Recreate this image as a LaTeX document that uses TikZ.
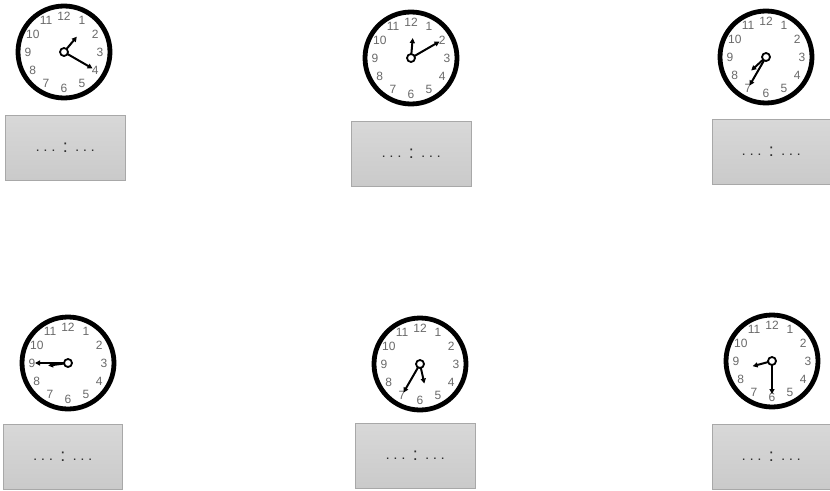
\documentclass[tikz,border=0pt]{standalone}
\usepackage{fontspec}
\setmainfont{Liberation Sans}
\usetikzlibrary{arrows.meta}
\definecolor{numgray}{HTML}{6A6A6A}
\definecolor{boxtop}{HTML}{D8D8D8}
\definecolor{boxbot}{HTML}{CACACA}
\definecolor{boxedge}{HTML}{A8A8A8}
\definecolor{dotgray}{HTML}{303030}
\tikzset{
  ring/.style={draw=black,line width=4.8pt},
  num/.style={text=numgray,font=\fontsize{12}{12}\selectfont,inner sep=0pt},
  clockhand/.style={draw=black,line width=2pt,-{Triangle[length=5pt,width=5pt]},shorten >=-1pt},
  hub/.style={draw=black,fill=white,line width=1.8pt},
  answerbox/.style={draw=boxedge,line width=0.6pt,top color=boxtop,bottom color=boxbot,
    minimum width=120pt,minimum height=65pt,inner sep=0pt,anchor=north west,
    text=dotgray,font=\bfseries\fontsize{10}{10}\selectfont}
}
\newcommand\dotrow{.\hspace{5pt}.\hspace{5pt}.}
\newcommand\answertext{\dotrow\hspace{8pt}\raisebox{-1pt}{\mdseries\fontsize{18}{18}\selectfont :}\hspace{8pt}\dotrow}
\newcommand\myclock[5]{%
  \begin{scope}[shift={(#1,#2)}]
    \coordinate (#5) at (0,0);
    \draw[ring] (0,0) circle (46pt);
    \foreach \n in {1,...,12} \node[num] at ({90-30*\n}:36) {\n};
    \draw[clockhand] (0,0) -- ({90-30*#3-0.5*#4}:19);
    \draw[clockhand] (0,0) -- ({90-6*#4}:32);
    \draw[hub] (0,0) circle (4pt);
  \end{scope}}
\begin{document}
\begin{tikzpicture}[x=1pt,y=1pt]
\useasboundingbox[fill=white] (0,0) rectangle (830,-490);
\myclock{64}{-52}{1}{20}{clockA}
\myclock{411}{-58}{12}{10}{clockB}
\myclock{766}{-57}{7}{35}{clockC}
\myclock{68}{-363}{8}{45}{clockD}
\myclock{420}{-364}{5}{35}{clockE}
\myclock{772}{-361}{8}{30}{clockF}
\node[answerbox] (boxA) at (5,-115) {\answertext};
\node[answerbox] (boxB) at (351,-121) {\answertext};
\node[answerbox,minimum width=118pt] (boxC) at (712,-119) {\answertext};
\node[answerbox,minimum width=119pt] (boxD) at (3,-424) {\answertext};
\node[answerbox] (boxE) at (355,-423) {\answertext};
\node[answerbox,minimum width=118pt] (boxF) at (712,-424) {\answertext};
\end{tikzpicture}
\end{document}
